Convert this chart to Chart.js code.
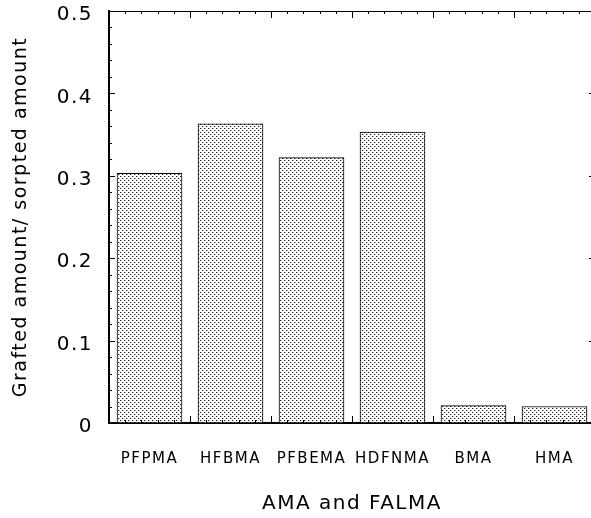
<!DOCTYPE html>
<html>
<head>
<meta charset="utf-8">
<script src="https://cdn.jsdelivr.net/npm/chart.js@4.4.1/dist/chart.umd.min.js"></script>
<style>
  html, body { margin: 0; padding: 0; background: #fff; overflow: hidden; }
</style>
</head>
<body>
<canvas id="myChart" width="591" height="518"></canvas>
<script>
// Monomers grafted onto the surface
const categories = ['PFPMA', 'HFBMA', 'PFBEMA', 'HDFNMA', 'BMA', 'HMA'];
// Grafted amount / sorpted amount
const ratios = [0.303, 0.363, 0.322, 0.353, 0.021, 0.020];
const yTicks = [0, 0.1, 0.2, 0.3, 0.4, 0.5];

const FONT = 'DejaVu Sans, Verdana, sans-serif';

// stippled fill used for the bars
function dotPattern() {
    const c = document.createElement('canvas');
    c.width = 4;
    c.height = 4;
    const g = c.getContext('2d');
    g.fillStyle = '#fff';
    g.fillRect(0, 0, 4, 4);
    g.fillStyle = '#c4c4c4';
    g.fillRect(1, 0, 1, 1);
    g.fillRect(3, 2, 1, 1);
    g.fillStyle = '#1a1a1a';
    g.fillRect(0, 0, 1, 1);
    g.fillRect(2, 2, 1, 1);
    return g.createPattern(c, 'repeat');
}

// wide lettering, like the old Mac plotting fonts
const wideText = {
    id: 'wideText',
    beforeLayout(chart) { chart.ctx.letterSpacing = '1.5px'; },
    beforeDraw(chart) { chart.ctx.letterSpacing = '1.5px'; }
};

// let the plot frame run a few pixels past the right edge of the canvas
const bleedRight = {
    id: 'bleedRight',
    afterLayout(chart) {
        const extra = 4;
        const x = chart.scales.x;
        chart.chartArea.right += extra;
        chart.chartArea.width += extra;
        x.right += extra;
        x.width += extra;
        x.configure();
    }
};

// inward tick marks on all four sides, plus the top and right frame lines
const frameTicks = {
    id: 'frameTicks',
    afterDatasetsDraw(chart) {
        const {ctx, chartArea: a, scales: {x, y}} = chart;
        ctx.save();
        ctx.strokeStyle = '#000';
        ctx.lineWidth = 1;
        ctx.beginPath();
        ctx.moveTo(a.left, a.top + 0.5);
        ctx.lineTo(a.right, a.top + 0.5);
        ctx.moveTo(a.right - 0.5, a.top);
        ctx.lineTo(a.right - 0.5, a.bottom);

        // y: major every 0.1, minor every 0.02
        for (let i = 0; i <= 25; i++) {
            const py = Math.round(y.getPixelForValue(i * 0.02)) + 0.5;
            const len = i % 5 === 0 ? 6 : 3;
            ctx.moveTo(a.left, py);
            ctx.lineTo(a.left + len, py);
            ctx.moveTo(a.right, py);
            ctx.lineTo(a.right - len, py);
        }

        // x: major at category boundaries, minor at fifths
        const step = (a.right - a.left) / categories.length;
        for (let i = 0; i <= categories.length * 5; i++) {
            const px = Math.round(a.left + i * step / 5) + 0.5;
            const len = i % 5 === 0 ? 7 : 3;
            ctx.moveTo(px, a.bottom);
            ctx.lineTo(px, a.bottom - len);
            ctx.moveTo(px, a.top);
            ctx.lineTo(px, a.top + len);
        }
        ctx.stroke();
        ctx.restore();
    }
};

const ctx = document.getElementById('myChart').getContext('2d');

new Chart(ctx, {
    type: 'bar',
    data: {
        labels: categories,
        datasets: [{
            data: ratios,
            backgroundColor: dotPattern(),
            borderColor: '#000',
            borderWidth: 1,
            borderSkipped: false,
            barThickness: 65
        }]
    },
    options: {
        responsive: false,
        animation: false,
        devicePixelRatio: 1,
        layout: { padding: { top: 11, right: 0, left: 0, bottom: 0 } },
        plugins: {
            legend: { display: false },
            tooltip: { enabled: false }
        },
        scales: {
            x: {
                grid: { display: false, drawTicks: false },
                border: { display: true, color: '#000', width: 2 },
                ticks: {
                    color: '#000',
                    padding: 27,
                    maxRotation: 0,
                    font: { family: FONT, size: 15 }
                },
                title: {
                    display: true,
                    text: 'AMA and FALMA',
                    color: '#000',
                    padding: { top: 0, bottom: 2 },
                    font: { family: FONT, size: 20 }
                },
                afterFit(scale) {
                    scale.height = 95;
                    scale.paddingLeft = 0;
                    scale.paddingRight = 0;
                }
            },
            y: {
                min: 0,
                max: 0.5,
                grid: { display: false, drawTicks: false },
                border: { display: true, color: '#000', width: 2 },
                afterBuildTicks(scale) {
                    scale.ticks = yTicks.map(v => ({ value: v }));
                },
                ticks: {
                    color: '#000',
                    padding: 16,
                    labelOffset: 4,
                    font: { family: FONT, size: 20 },
                    callback: v => String(Math.round(v * 10) / 10)
                },
                title: {
                    display: true,
                    text: 'Grafted amount/ sorpted amount',
                    color: '#000',
                    padding: { top: 10, bottom: 0 },
                    font: { family: FONT, size: 19 }
                },
                afterFit(scale) {
                    scale.width = 109;
                    scale.paddingTop = 0;
                    scale.paddingBottom = 0;
                }
            }
        }
    },
    plugins: [wideText, bleedRight, frameTicks]
});
</script>
</body>
</html>
